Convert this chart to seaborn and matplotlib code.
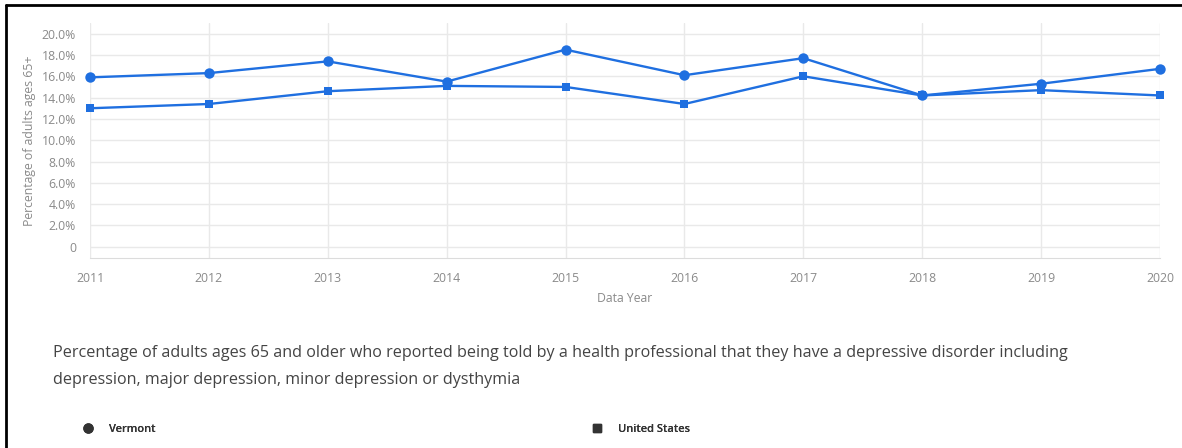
import numpy as np
import pandas as pd
import seaborn as sns
import matplotlib.pyplot as plt
from matplotlib.lines import Line2D
from matplotlib.ticker import FuncFormatter

years = [2011, 2012, 2013, 2014, 2015, 2016, 2017, 2018, 2019, 2020]
vermont = [15.9, 16.3, 17.4, 15.5, 18.5, 16.1, 17.7, 14.2, 15.3, 16.7]
united_states = [13.0, 13.4, 14.6, 15.1, 15.0, 13.4, 16.0, 14.2, 14.7, 14.2]
regions = ['Vermont', 'United States']
caption = ('Percentage of adults ages 65 and older who reported being told by a health professional '
           'that they have a depressive disorder including\ndepression, major depression, minor depression or dysthymia')

df = pd.DataFrame({
    'Data Year': years * 2,
    'value': vermont + united_states,
    'Region': [regions[0]] * len(years) + [regions[1]] * len(years),
})

sns.set_style('white')
plt.rcParams['font.family'] = ['Open Sans', 'DejaVu Sans']

blue = '#1f6fe0'
gray = '#8a8a8a'
grid = '#e9e9e9'

fig = plt.figure(figsize=(11.82, 4.48), dpi=100)
ax = fig.add_axes([90/1182, 1-258/448, 1070/1182, 235/448])

sns.lineplot(data=df, x='Data Year', y='value', style='Region',
             markers={'Vermont': 'o', 'United States': 's'}, dashes=False,
             color=blue, linewidth=1.7, ax=ax, legend=False)
for line, ms in zip(ax.lines, [7.5, 6]):
    line.set_markersize(ms)
    line.set_markeredgewidth(0)
    line.set_clip_on(False)

ax.set_xlim(2011, 2020)
ax.set_ylim(-1.05, 21.0)
ax.set_xticks(years)
ax.set_yticks(np.arange(0, 21, 2))
ax.yaxis.set_major_formatter(FuncFormatter(lambda v, p: '0' if v == 0 else f'{v:.1f}%'))
ax.grid(True, color=grid, linewidth=1)
ax.set_axisbelow(True)
for s in ['top', 'right', 'left']:
    ax.spines[s].set_visible(False)
ax.spines['bottom'].set_color('#dcdcdc')
ax.tick_params(axis='y', length=8, color=grid, pad=2, labelsize=8.8, labelcolor=gray)
ax.tick_params(axis='x', length=0, pad=10, labelsize=8.8, labelcolor=gray)
ax.set_xlabel('Data Year', fontsize=8.8, color=gray, labelpad=5)
ax.set_ylabel('Percentage of adults ages 65+', fontsize=8.8, color=gray, labelpad=4)

fig.text(53/1182, 1-345/448, caption, fontsize=11.6, color='#444444',
         va='top', ha='left', linespacing=1.9, family=['Open Sans', 'DejaVu Sans'])

for x, label, m, ms in [(87, 'Vermont', 'o', 6.5), (596, 'United States', 's', 6)]:
    h = Line2D([], [], linestyle='none', marker=m, color='#333333', markersize=ms)
    lg = fig.legend([h], [label], loc='center left', frameon=False,
                    bbox_to_anchor=((x - 15)/1182, 1-429/448),
                    prop={'size': 8, 'weight': 'semibold', 'family': 'Open Sans'},
                    handlelength=1, handletextpad=1.4)
    for t in lg.get_texts():
        t.set_color('#333333')
    fig.add_artist(lg)

fig.add_artist(Line2D([6/1182, 6/1182], [0, 1-5/448], transform=fig.transFigure, color='black', linewidth=2))
fig.add_artist(Line2D([6/1182, 1], [1-5/448, 1-5/448], transform=fig.transFigure, color='black', linewidth=2))

fig.savefig('out.png', dpi=100)
